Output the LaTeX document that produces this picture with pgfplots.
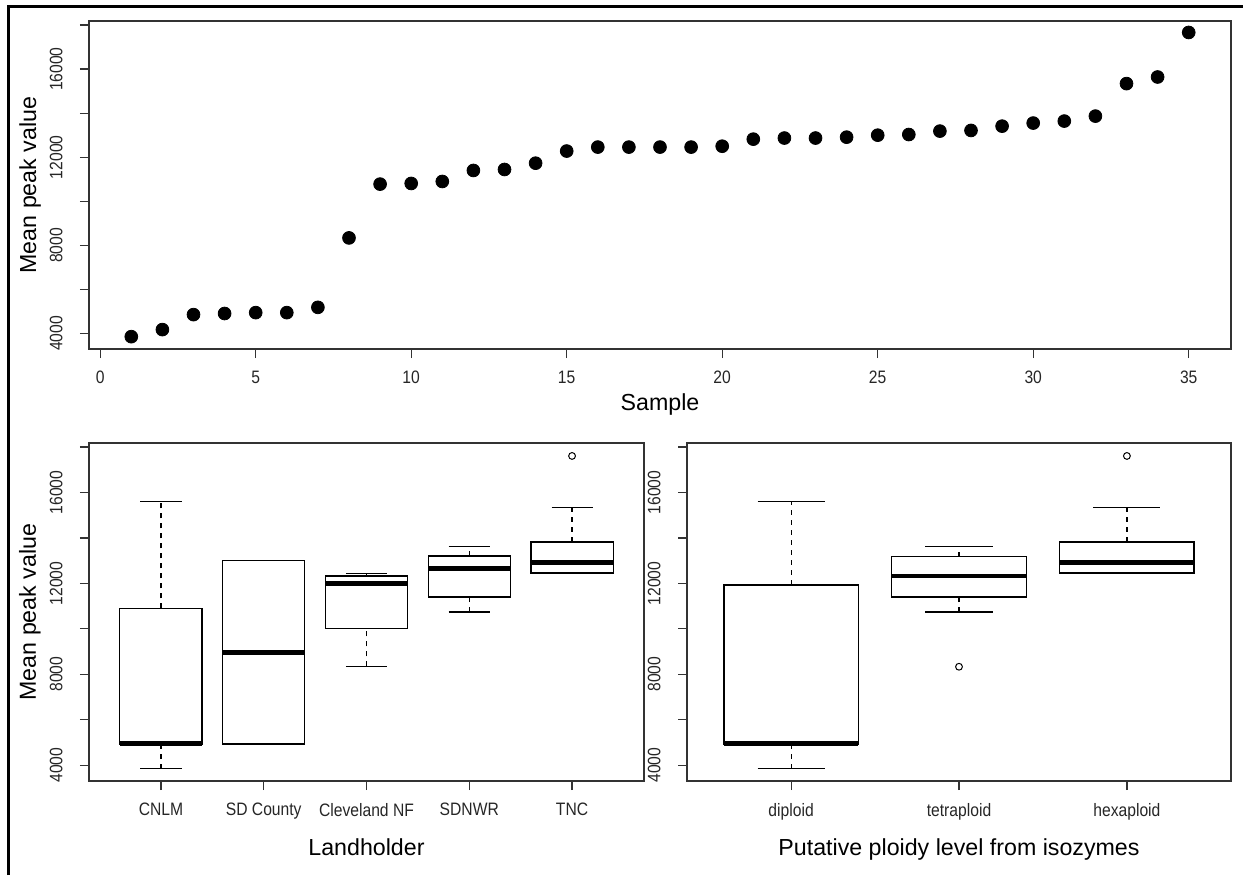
\documentclass[border=0pt]{standalone}
\usepackage{fontspec}
\setmainfont{Liberation Sans}
\newfontfamily\ticksans[FakeStretch=0.87]{Liberation Sans}
\usepackage{pgfplots}
\pgfplotsset{compat=1.18}
\usepgfplotslibrary{statistics}

% R-like base graphics look; 1 px of the reference = 0.5pt
\pgfplotsset{
  rstyle/.style={
    scale only axis,
    axis line style={black!80, line width=0.6pt},
    tick style={black!80, line width=0.6pt},
    tick align=outside, tick pos=left,
    major tick length=4.5pt, minor tick length=4.5pt,
    ticklabel style={font=\ticksans\fontsize{9}{10}\selectfont, text=black!85},
    label style={font=\fontsize{11.6}{14}\selectfont},
    xticklabel style={inner sep=0pt, anchor=north},
    xticklabel shift=6.5pt,
    yticklabel style={rotate=90, anchor=south, inner xsep=0pt, inner ysep=8.5pt},
    scaled y ticks=false,
    ytick={4000,8000,12000,16000},
    yticklabels={4000,8000,12000,16000},
    minor ytick={6000,10000,14000,18000},
    ymin=3300, ymax=18180,
  },
  rbox/.style={black, line width=0.6pt, mark=o,
    mark options={solid, line width=0.5pt}, mark size=1.7pt},
  boxplot/draw direction=y,
  boxplot/box extend=0.8,
  boxplot/whisker extend=0.4,
  boxplot/every median/.style={line width=2.4pt},
  boxplot/draw/lower whisker/.code={%
    \draw[/pgfplots/boxplot/every whisker/.try, dash pattern=on 2.5pt off 2.5pt]
      (boxplot box cs:\boxplotvalue{lower whisker},0.5) --
      (boxplot box cs:\boxplotvalue{lower quartile},0.5);
    \draw[/pgfplots/boxplot/every whisker/.try]
      (boxplot whisker cs:\boxplotvalue{lower whisker},0) --
      (boxplot whisker cs:\boxplotvalue{lower whisker},1);
  },
  boxplot/draw/upper whisker/.code={%
    \draw[/pgfplots/boxplot/every whisker/.try, dash pattern=on 2.5pt off 2.5pt]
      (boxplot box cs:\boxplotvalue{upper quartile},0.5) --
      (boxplot box cs:\boxplotvalue{upper whisker},0.5);
    \draw[/pgfplots/boxplot/every whisker/.try]
      (boxplot whisker cs:\boxplotvalue{upper whisker},0) --
      (boxplot whisker cs:\boxplotvalue{upper whisker},1);
  },
}

\pgfplotstableread{
x y
1 3860
2 4180
3 4860
4 4910
5 4950
6 4950
7 5190
8 8340
9 10780
10 10810
11 10900
12 11400
13 11445
14 11730
15 12280
16 12460
17 12460
18 12460
19 12460
20 12500
21 12820
22 12870
23 12870
24 12910
25 13000
26 13030
27 13185
28 13215
29 13410
30 13550
31 13640
32 13865
33 15340
34 15640
35 17660
}\peaks

\begin{document}
\begin{tikzpicture}
\useasboundingbox (0,0) rectangle (621.5pt,437.5pt);
\draw[line width=1.5pt] (4pt,0) -- (4pt,434pt) -- (621.5pt,434pt);

% top: sorted sample means
\begin{axis}[rstyle, at={(44.5pt,263pt)}, anchor=south west,
  width=571pt, height=164pt,
  xmin=-0.36, xmax=36.36, xtick={0,5,...,35},
  xticklabels={0,5,10,15,20,25,30,35},
  xlabel={Sample}, ylabel={Mean peak value},
  xlabel style={at={(axis description cs:0.5,-0.189)}, anchor=base},
  ylabel style={at={(axis description cs:-0.0464,0.5)}, anchor=base}]
\addplot[only marks, mark=*, mark size=3.2pt, black] table {\peaks};
\end{axis}

% bottom left: by landholder
\begin{axis}[rstyle, at={(44.5pt,47pt)}, anchor=south west,
  width=277.5pt, height=169pt,
  xmin=0.3, xmax=5.7, xtick={1,2,3,4,5},
  xticklabels={CNLM, SD County, Cleveland NF, SDNWR, TNC},
  xlabel={Landholder}, ylabel={Mean peak value},
  xlabel style={at={(axis description cs:0.5,-0.219)}, anchor=base},
  ylabel style={at={(axis description cs:-0.0955,0.5)}, anchor=base}]
\addplot[rbox, boxplot prepared={draw position=1, lower whisker=3850,
  lower quartile=4925, median=4950, upper quartile=10900, upper whisker=15610}]
  coordinates {};
\addplot[rbox, boxplot prepared={draw position=2, lower whisker=4925,
  lower quartile=4925, median=8960, upper quartile=12990, upper whisker=12990}]
  coordinates {};
\addplot[rbox, boxplot prepared={draw position=3, lower whisker=8345,
  lower quartile=10020, median=11985, upper quartile=12325, upper whisker=12440}]
  coordinates {};
\addplot[rbox, boxplot prepared={draw position=4, lower whisker=10740,
  lower quartile=11400, median=12645, upper quartile=13205, upper whisker=13615}]
  coordinates {};
\addplot[rbox, boxplot prepared={draw position=5, lower whisker=12430,
  lower quartile=12455, median=12910, upper quartile=13825, upper whisker=15335}]
  table[row sep=\\, y index=0] {data\\ 17610\\};
\end{axis}

% bottom right: by ploidy level
\begin{axis}[rstyle, at={(343.5pt,47pt)}, anchor=south west,
  width=272pt, height=169pt,
  xmin=0.38, xmax=3.62, xtick={1,2,3},
  xticklabels={diploid, tetraploid, hexaploid},
  xlabel={Putative ploidy level from isozymes},
  xlabel style={at={(axis description cs:0.5,-0.219)}, anchor=base}]
\addplot[rbox, boxplot prepared={draw position=1, lower whisker=3850,
  lower quartile=4925, median=4950, upper quartile=11930, upper whisker=15610}]
  coordinates {};
\addplot[rbox, boxplot prepared={draw position=2, lower whisker=10740,
  lower quartile=11400, median=12325, upper quartile=13175, upper whisker=13615}]
  table[row sep=\\, y index=0] {data\\ 8330\\};
\addplot[rbox, boxplot prepared={draw position=3, lower whisker=12430,
  lower quartile=12455, median=12910, upper quartile=13825, upper whisker=15335}]
  table[row sep=\\, y index=0] {data\\ 17610\\};
\end{axis}
\end{tikzpicture}
\end{document}
